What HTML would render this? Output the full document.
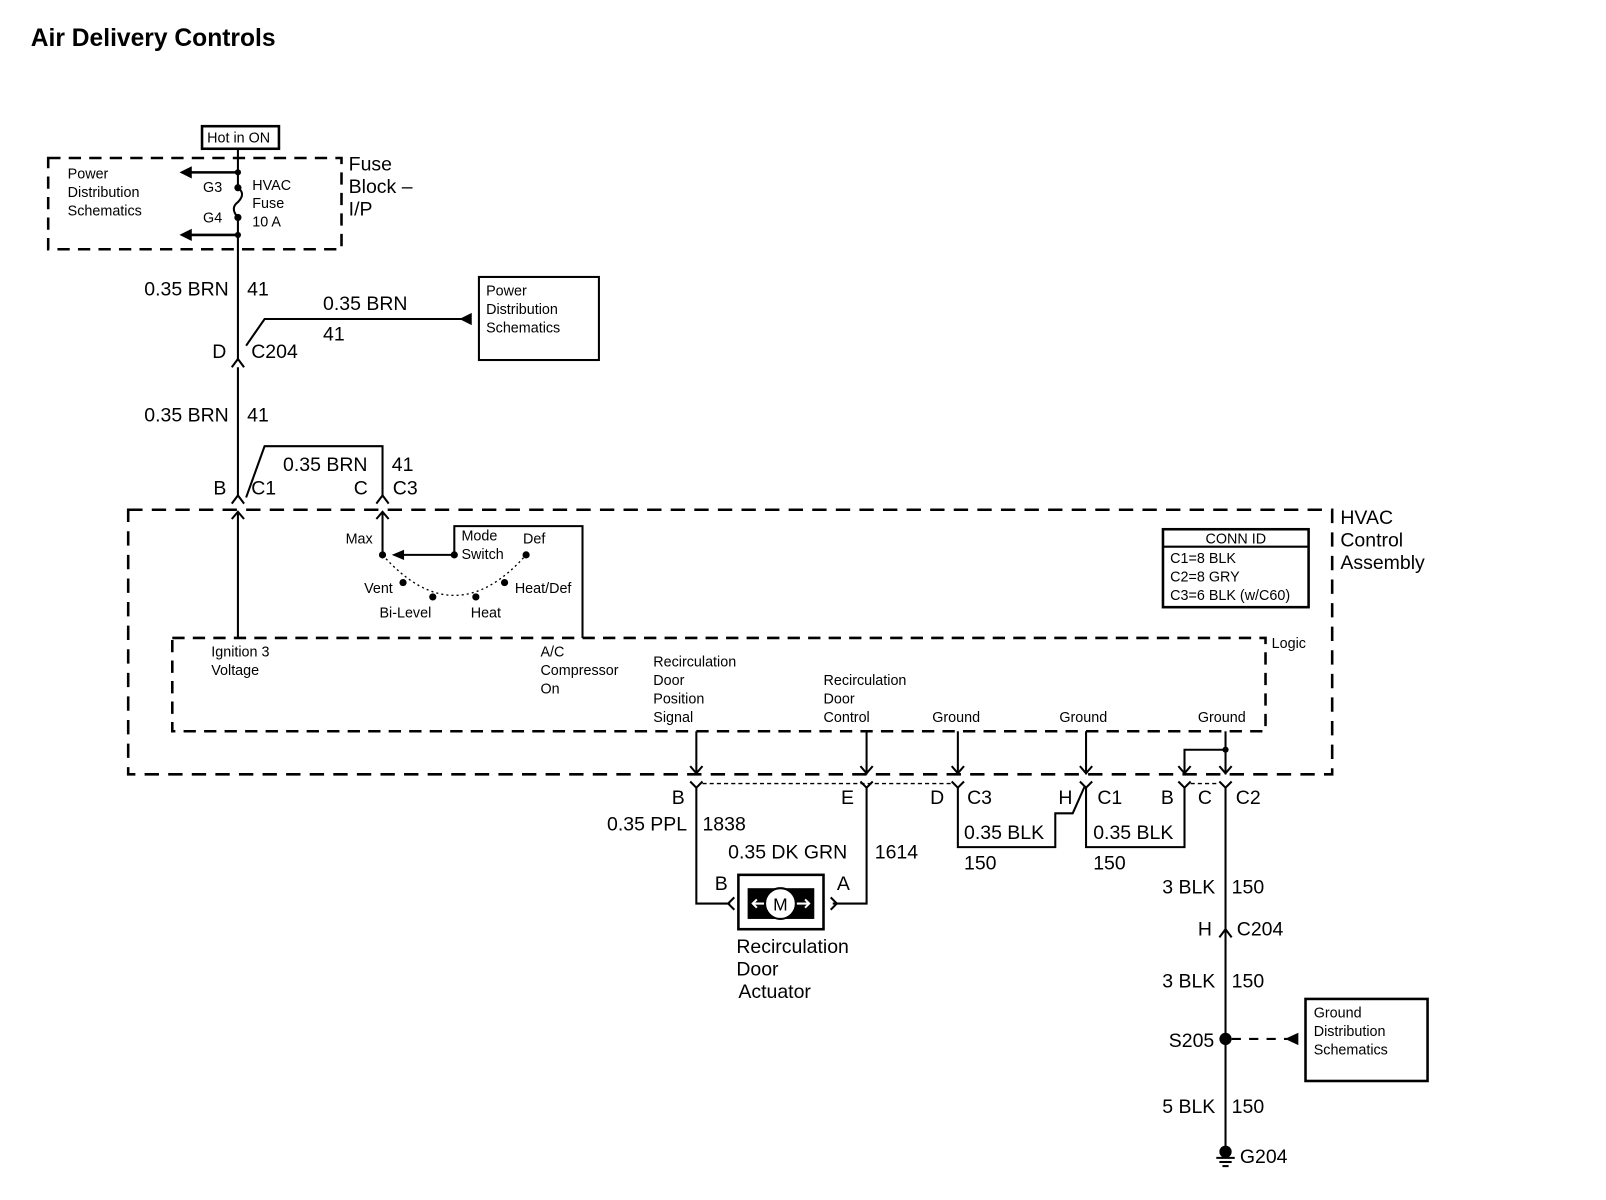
<!DOCTYPE html>
<html><head><meta charset="utf-8"><style>
html,body{margin:0;padding:0;background:#fff}
svg{display:block}
text{font-family:"Liberation Sans",Arial,sans-serif;fill:#000}
.s{font-size:14px}
.m{font-size:19px}
</style></head><body>
<svg width="1606" height="1200" viewBox="0 0 1566 1170" xmlns="http://www.w3.org/2000/svg">
<g stroke="#000" fill="none" stroke-width="2">
<rect x="197" y="123" width="75" height="22" stroke-width="2.5"/>
<rect x="47" y="154" width="286" height="89" stroke-dasharray="12,8" stroke-width="2.5"/>
<line x1="232" y1="145" x2="232" y2="183"/>
<line x1="232" y1="212" x2="232" y2="352"/>
<line x1="232" y1="168" x2="185" y2="168" stroke-width="2.5"/>
<line x1="232" y1="229" x2="185" y2="229" stroke-width="2.5"/>
<path d="M232 183 q8 6 0 14 q-8 6 0 15"/>
<path d="M240 337 L258 311 L455 311"/>
<rect x="467" y="270" width="117" height="81"/>
<path d="M226 358 L232 350 L238 358"/>
<line x1="232" y1="358" x2="232" y2="485"/>
<path d="M240 485 L258 435 L373 435 L373 485"/>
<path d="M226 491 L232 483 L238 491"/>
<path d="M367 491 L373 483 L379 491"/>
<rect x="125" y="497" width="1174" height="258" stroke-dasharray="14,9" stroke-width="2.5"/>
<rect x="168" y="622" width="1066" height="91" stroke-dasharray="12,8" stroke-width="2.5"/>
<line x1="232" y1="622" x2="232" y2="500"/>
<path d="M226 506 L232 499 L238 506"/>
<line x1="373" y1="541" x2="373" y2="500"/>
<path d="M367 506 L373 499 L379 506"/>
<line x1="443" y1="541" x2="390" y2="541"/>
<path d="M443 541 L443 513 L568 513 L568 622"/>
<path d="M373 541 Q443 620 513 541" stroke-dasharray="2,3" stroke-width="1.3"/>
<rect x="1134" y="516" width="142" height="76" stroke-width="2.5"/>
<line x1="1134" y1="533" x2="1276" y2="533"/>
<line x1="679" y1="713" x2="679" y2="755"/>
<line x1="845" y1="713" x2="845" y2="755"/>
<line x1="934" y1="713" x2="934" y2="755"/>
<line x1="1059" y1="713" x2="1059" y2="755"/>
<line x1="1195" y1="713" x2="1195" y2="755"/>
<path d="M1195 731 L1155 731 L1155 755"/>
<g>
<path d="M673 747 L679 754 L685 747"/>
<path d="M839 747 L845 754 L851 747"/>
<path d="M928 747 L934 754 L940 747"/>
<path d="M1053 747 L1059 754 L1065 747"/>
<path d="M1149 747 L1155 754 L1161 747"/>
<path d="M1189 747 L1195 754 L1201 747"/>
</g>
<g>
<path d="M673 762 L679 768 L685 762"/>
<path d="M839 762 L845 768 L851 762"/>
<path d="M928 762 L934 768 L940 762"/>
<path d="M1053 762 L1059 768 L1065 762"/>
<path d="M1149 762 L1155 768 L1161 762"/>
<path d="M1189 762 L1195 768 L1201 762"/>
</g>
<line x1="685" y1="764" x2="928" y2="764" stroke-dasharray="4,3" stroke-width="1.3"/>
<line x1="1161" y1="764" x2="1189" y2="764" stroke-dasharray="4,3" stroke-width="1.3"/>
<path d="M679 768 L679 881 L712 881"/>
<path d="M845 768 L845 881 L812 881"/>
<path d="M716 875 L710 881 L716 887"/>
<path d="M810 875 L816 881 L810 887"/>
<rect x="720" y="853" width="83" height="53" stroke-width="2.5"/>
<path d="M934 768 L934 826 L1029 826 L1029 793 L1046 793 L1058 766"/>
<path d="M1059 768 L1059 826 L1155 826 L1155 768"/>
<line x1="1195" y1="768" x2="1195" y2="1120"/>
<path d="M1189 914 L1195 906 L1201 914"/>
<line x1="1201" y1="1013" x2="1255" y2="1013" stroke-dasharray="9,8"/>
<rect x="1273" y="974" width="119" height="80" stroke-width="2.5"/>
<line x1="1186" y1="1129" x2="1204" y2="1129"/>
<line x1="1189" y1="1133" x2="1201" y2="1133"/>
<line x1="1192" y1="1137" x2="1198" y2="1137"/>
</g>
<g fill="#000">
<polygon points="175,168 187,162 187,174"/>
<polygon points="175,229 187,223 187,235"/>
<circle cx="232" cy="168" r="3"/><circle cx="232" cy="183" r="3.5"/><circle cx="232" cy="212" r="3.5"/><circle cx="232" cy="229" r="3"/>
<polygon points="448,311 460,305 460,317"/>
<polygon points="382,541 394,536 394,546"/>
<circle cx="373" cy="541" r="3.5"/><circle cx="443" cy="541" r="3.5"/><circle cx="513" cy="541" r="3.5"/>
<circle cx="393" cy="568" r="3.5"/><circle cx="422" cy="582" r="3.5"/><circle cx="464" cy="582" r="3.5"/><circle cx="492" cy="568" r="3.5"/>
<circle cx="1195" cy="731" r="3"/>
<rect x="729" y="866" width="65" height="30"/>
<circle cx="1195" cy="1013" r="6"/>
<polygon points="1253,1013 1266,1007 1266,1019"/>
<circle cx="1195" cy="1123" r="6"/>
</g>
<circle cx="761" cy="881" r="15" fill="#fff" stroke="#000" stroke-width="2"/>
<g stroke="#fff" stroke-width="2" fill="none">
<path d="M745 881 L734 881 M738 877 L734 881 L738 885"/>
<path d="M777 881 L789 881 M785 877 L789 881 L785 885"/>
</g>
<text x="30" y="45" style="font-size:24px;font-weight:bold">Air Delivery Controls</text>
<text x="202" y="139" class="s">Hot in ON</text>
<text class="s" x="66" y="174">Power</text><text class="s" x="66" y="192">Distribution</text><text class="s" x="66" y="210">Schematics</text>
<text class="s" x="198" y="187">G3</text><text class="s" x="198" y="217">G4</text>
<text class="s" x="246" y="185">HVAC</text><text class="s" x="246" y="203">Fuse</text><text class="s" x="246" y="221">10 A</text>
<text class="m" x="340" y="166">Fuse</text><text class="m" x="340" y="188">Block –</text><text class="m" x="340" y="210">I/P</text>
<text class="m" x="223" y="288" text-anchor="end">0.35 BRN</text><text class="m" x="241" y="288">41</text>
<text class="m" x="315" y="302">0.35 BRN</text><text class="m" x="315" y="332">41</text>
<text class="s" x="474" y="288">Power</text><text class="s" x="474" y="306">Distribution</text><text class="s" x="474" y="324">Schematics</text>
<text class="m" x="207" y="349">D</text><text class="m" x="245" y="349">C204</text>
<text class="m" x="223" y="411" text-anchor="end">0.35 BRN</text><text class="m" x="241" y="411">41</text>
<text class="m" x="276" y="459">0.35 BRN</text><text class="m" x="382" y="459">41</text>
<text class="m" x="208" y="482">B</text><text class="m" x="245" y="482">C1</text><text class="m" x="345" y="482">C</text><text class="m" x="383" y="482">C3</text>
<text class="m" x="1307" y="511">HVAC</text><text class="m" x="1307" y="533">Control</text><text class="m" x="1307" y="555">Assembly</text>
<text class="s" x="337" y="530">Max</text><text class="s" x="450" y="527">Mode</text><text class="s" x="450" y="545">Switch</text><text class="s" x="510" y="530">Def</text>
<text class="s" x="355" y="578">Vent</text><text class="s" x="502" y="578">Heat/Def</text>
<text class="s" x="370" y="602">Bi-Level</text><text class="s" x="459" y="602">Heat</text>
<text class="s" x="1205" y="530" text-anchor="middle">CONN ID</text>
<text class="s" x="1141" y="549">C1=8 BLK</text><text class="s" x="1141" y="567">C2=8 GRY</text><text class="s" x="1141" y="585">C3=6 BLK (w/C60)</text>
<text class="s" x="1240" y="632">Logic</text>
<text class="s" x="206" y="640">Ignition 3</text><text class="s" x="206" y="658">Voltage</text>
<text class="s" x="527" y="640">A/C</text><text class="s" x="527" y="658">Compressor</text><text class="s" x="527" y="676">On</text>
<text class="s" x="637" y="650">Recirculation</text><text class="s" x="637" y="668">Door</text><text class="s" x="637" y="686">Position</text><text class="s" x="637" y="704">Signal</text>
<text class="s" x="803" y="668">Recirculation</text><text class="s" x="803" y="686">Door</text><text class="s" x="803" y="704">Control</text>
<text class="s" x="909" y="704">Ground</text><text class="s" x="1033" y="704">Ground</text><text class="s" x="1168" y="704">Ground</text>
<text class="m" x="655" y="784">B</text><text class="m" x="820" y="784">E</text><text class="m" x="907" y="784">D</text><text class="m" x="943" y="784">C3</text>
<text class="m" x="1032" y="784">H</text><text class="m" x="1070" y="784">C1</text><text class="m" x="1132" y="784">B</text><text class="m" x="1168" y="784">C</text><text class="m" x="1205" y="784">C2</text>
<text class="m" x="670" y="810" text-anchor="end">0.35 PPL</text><text class="m" x="685" y="810">1838</text>
<text class="m" x="710" y="837">0.35 DK GRN</text><text class="m" x="853" y="837">1614</text>
<text class="m" x="697" y="868">B</text><text class="m" x="816" y="868">A</text>
<text x="761" y="888" text-anchor="middle" style="font-size:17px">M</text>
<text class="m" x="718" y="929">Recirculation</text><text class="m" x="718" y="951">Door</text><text class="m" x="720" y="973">Actuator</text>
<text class="m" x="940" y="818">0.35 BLK</text><text class="m" x="940" y="848">150</text>
<text class="m" x="1066" y="818">0.35 BLK</text><text class="m" x="1066" y="848">150</text>
<text class="m" x="1185" y="871" text-anchor="end">3 BLK</text><text class="m" x="1201" y="871">150</text>
<text class="m" x="1168" y="912">H</text><text class="m" x="1206" y="912">C204</text>
<text class="m" x="1185" y="963" text-anchor="end">3 BLK</text><text class="m" x="1201" y="963">150</text>
<text class="m" x="1184" y="1021" text-anchor="end">S205</text>
<text class="s" x="1281" y="992">Ground</text><text class="s" x="1281" y="1010">Distribution</text><text class="s" x="1281" y="1028">Schematics</text>
<text class="m" x="1185" y="1085" text-anchor="end">5 BLK</text><text class="m" x="1201" y="1085">150</text>
<text class="m" x="1209" y="1134">G204</text>
</svg>
</body></html>
